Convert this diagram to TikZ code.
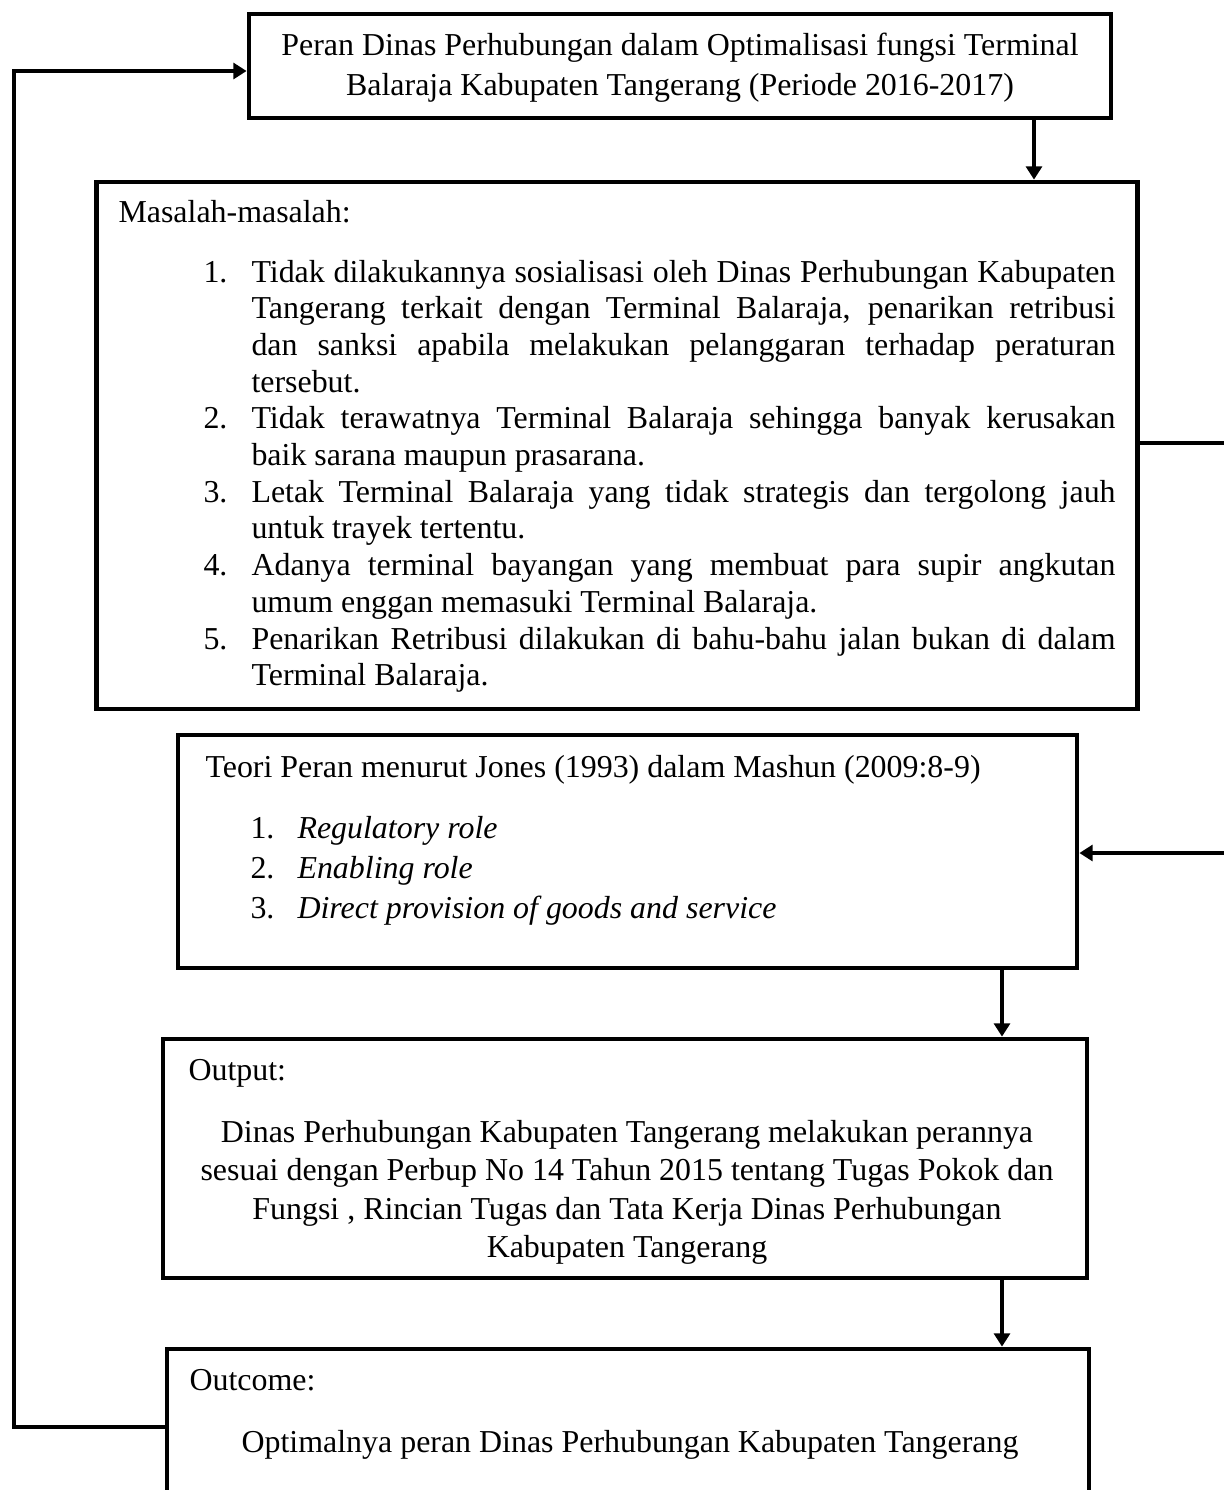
\documentclass[tikz,border=0pt]{standalone}
\usepackage{fontspec}
\setmainfont{Liberation Serif}
\usepackage{tikz}
\usetikzlibrary{arrows.meta}
\newlength{\pxu}
\setlength{\pxu}{0.376pt}
\newcommand{\rata}[1]{\makebox[864\pxu][s]{#1}}

\begin{document}
\begin{tikzpicture}[x=\pxu, y=-\pxu,
                    every node/.style={font=\fontsize{12pt}{14pt}\selectfont},
                    kotak/.style={draw, line width=1.8pt, inner sep=0pt},
                    teks/.style={inner sep=0pt, anchor=base west},
                    tengah/.style={inner sep=0pt, anchor=base},
                    panah/.style={line width=1.8pt, -{Triangle[length=5pt,width=6pt]}}]
                    \useasboundingbox (0,0) rectangle (1224,1490);

                    % kotak-kotak
                    \node[kotak, minimum width=862\pxu, minimum height=104\pxu] (judul) at (680,66) {};
                    \node[kotak, minimum width=1041\pxu, minimum height=527\pxu] (masalah) at (617,445.5) {};
                    \node[kotak, minimum width=899\pxu, minimum height=233\pxu] (teori) at (627.5,851.5) {};
                    \node[kotak, minimum width=924\pxu, minimum height=239\pxu] (output) at (625,1158.5) {};
                    \node[kotak, minimum width=922\pxu, minimum height=170\pxu] (outcome) at (628,1434) {};

                    % judul
                    \node[tengah] (judul1) at (680,55) {Peran Dinas Perhubungan dalam Optimalisasi fungsi Terminal};
                    \node[tengah] (judul2) at (680,95) {Balaraja Kabupaten Tangerang (Periode 2016-2017)};

                    % masalah
                    \node[teks] (mjudul) at (118,222) {Masalah-masalah:};
                    \node[teks] (n1) at (203,282) {1.};
                    \node[teks] (m1a) at (251,282) {\rata{Tidak dilakukannya sosialisasi oleh Dinas Perhubungan Kabupaten}};
                    \node[teks] (m1b) at (251,318.7) {\rata{Tangerang terkait dengan Terminal Balaraja, penarikan retribusi}};
                    \node[teks] (m1c) at (251,355.4) {\rata{dan sanksi apabila melakukan pelanggaran terhadap peraturan}};
                    \node[teks] (m1d) at (251,392.1) {tersebut.};
                    \node[teks] (n2) at (203,428.8) {2.};
                    \node[teks] (m2a) at (251,428.8) {\rata{Tidak terawatnya Terminal Balaraja sehingga banyak kerusakan}};
                    \node[teks] (m2b) at (251,465.5) {baik sarana maupun prasarana.};
                    \node[teks] (n3) at (203,502.2) {3.};
                    \node[teks] (m3a) at (251,502.2) {\rata{Letak Terminal Balaraja yang tidak strategis dan tergolong jauh}};
                    \node[teks] (m3b) at (251,538.9) {untuk trayek tertentu.};
                    \node[teks] (n4) at (203,575.6) {4.};
                    \node[teks] (m4a) at (251,575.6) {\rata{Adanya terminal bayangan yang membuat para supir angkutan}};
                    \node[teks] (m4b) at (251,612.3) {umum enggan memasuki Terminal Balaraja.};
                    \node[teks] (n5) at (203,649) {5.};
                    \node[teks] (m5a) at (251,649) {\rata{Penarikan Retribusi dilakukan di bahu-bahu jalan bukan di dalam}};
                    \node[teks] (m5b) at (251,685.7) {Terminal Balaraja.};

                    % teori
                    \node[teks] (tjudul) at (205,777) {Teori Peran menurut Jones (1993) dalam Mashun (2009:8-9)};
                    \node[teks] (k1) at (250,838) {1.};
                    \node[teks] (t1) at (297,838) {\textit{Regulatory role}};
                    \node[teks] (k2) at (250,878) {2.};
                    \node[teks] (t2) at (297,878) {\textit{Enabling role}};
                    \node[teks] (k3) at (250,918) {3.};
                    \node[teks] (t3) at (297,918) {\textit{Direct provision of goods and service}};

                    % output
                    \node[teks] (ojudul) at (188,1080) {Output:};
                    \node[tengah] (o1) at (627,1142) {Dinas Perhubungan Kabupaten Tangerang melakukan perannya};
                    \node[tengah] (o2) at (627,1180.5) {sesuai dengan Perbup No 14 Tahun 2015 tentang Tugas Pokok dan};
                    \node[tengah] (o3) at (627,1219) {Fungsi , Rincian Tugas dan Tata Kerja Dinas Perhubungan};
                    \node[tengah] (o4) at (627,1257.5) {Kabupaten Tangerang};

                    % outcome
                    \node[teks] (ujudul) at (189,1390) {Outcome:};
                    \node[tengah] (u1) at (630,1452) {Optimalnya peran Dinas Perhubungan Kabupaten Tangerang};

                    % panah
                    \coordinate (x1) at (1034,0);
                    \coordinate (x2) at (1002,0);
                    \coordinate (kanan1) at (1240,443);
                    \coordinate (kanan2) at (1240,853);
                    \coordinate (kiri1) at (14,1427);
                    \coordinate (kiri2) at (14,71);
                    \draw[panah] (judul.south -| x1) -- (masalah.north -| x1);
                    \draw[panah] (masalah.east |- kanan1) -- (kanan1) -- (kanan2) -- (teori.east |- kanan2);
                    \draw[panah] (teori.south -| x2) -- (output.north -| x2);
                    \draw[panah] (output.south -| x2) -- (outcome.north -| x2);
                    \draw[panah] (outcome.west |- kiri1) -- (kiri1) -- (kiri2) -- (judul.west |- kiri2);

                \end{tikzpicture}
\end{document}
